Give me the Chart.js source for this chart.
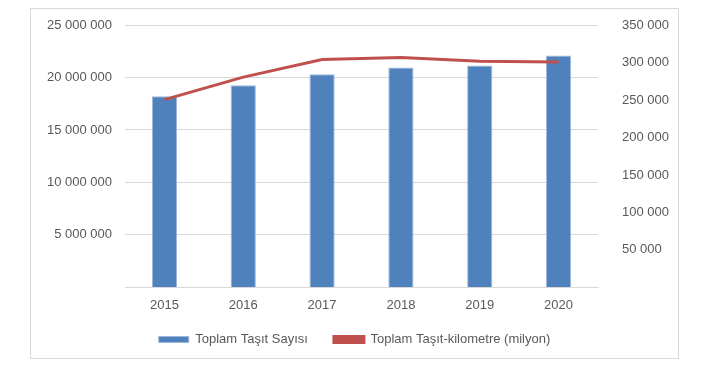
<!DOCTYPE html>
<html>
<head>
<meta charset="utf-8">
<script src="https://cdn.jsdelivr.net/npm/chart.js@4.4.0/dist/chart.umd.min.js"></script>
<style>
  html, body { margin: 0; padding: 0; background: #fff; }
  #box {
    position: absolute;
    left: 30px; top: 8px;
    width: 647px; height: 349px;
    border: 1px solid #d9d9d9;
  }
</style>
</head>
<body>
<div id="box"><canvas id="myChart" width="647" height="349"></canvas></div>
<script>
const years = ["2015", "2016", "2017", "2018", "2019", "2020"];
const vehicles = [18200000, 19250000, 20300000, 20950000, 21150000, 22100000];
const vehicleKm = [250500, 280500, 304000, 306500, 301500, 300500];

const fmt = (v) => (v === 0 ? "" : String(v).replace(/\B(?=(\d{3})+(?!\d))/g, " "));

Chart.defaults.font.family = "'Liberation Sans', Arial, sans-serif";
Chart.defaults.font.size = 13;
Chart.defaults.color = "#595959";

// wider gap between legend items without a taller legend box
const legendGap = {
  id: "legendGap",
  afterInit(chart) {
    const lg = chart.legend;
    const fit = lg.fit;
    lg.fit = function () { fit.call(this); this.height = 33; };
    lg.draw = function () {
      this.ctx.save();
      this.ctx.translate(0, -16);
      this._draw();
      this.ctx.restore();
    };
  },
};

// fixed side widths, and no tick padding added above/below the plot
const fixAxis = (w) => (s) => {
  s.width = w;
  s.paddingTop = 16;
  s.paddingBottom = 0;
};

const ctx = document.getElementById("myChart").getContext("2d");
const myChart = new Chart(ctx, {
  type: "bar",
  data: {
    labels: years,
    datasets: [
      {
        type: "line",
        label: "Toplam Taşıt-kilometre (milyon)",
        data: vehicleKm,
        yAxisID: "y2",
        borderColor: "#C0504D",
        backgroundColor: "#C0504D",
        borderWidth: 3,
        pointRadius: 0,
        tension: 0,
        order: 0,
      },
      {
        label: "Toplam Taşıt Sayısı",
        data: vehicles,
        yAxisID: "y",
        backgroundColor: "#4F81BD",
        borderColor: "#9DB8DC",
        borderWidth: 1,
        categoryPercentage: 1,
        barPercentage: 0.32,
        order: 1,
      },
    ],
  },
  plugins: [legendGap],
  options: {
    responsive: false,
    animation: false,
    layout: { padding: { left: 0, right: 0, top: 0, bottom: 2 } },
    plugins: {
      tooltip: { enabled: false },
      legend: {
        position: "bottom",
        reverse: true,
        labels: {
          boxWidth: 30,
          boxHeight: 6,
          padding: 26,
          color: "#595959",
          font: { size: 13 },
        },
      },
    },
    scales: {
      x: {
        grid: { display: false, drawTicks: false },
        border: { display: true, color: "#d9d9d9", width: 1 },
        ticks: { padding: 10 },
      },
      y: {
        position: "left",
        min: 0,
        max: 25000000,
        ticks: { stepSize: 5000000, callback: fmt, padding: 13 },
        grid: { color: "#d9d9d9", drawTicks: false },
        border: { display: false },
        afterFit: fixAxis(94),
      },
      y2: {
        position: "right",
        min: 0,
        max: 350000,
        ticks: { stepSize: 50000, callback: fmt, padding: 24 },
        grid: { drawOnChartArea: false, drawTicks: false },
        border: { display: false },
        afterFit: fixAxis(80),
      },
    },
  },
});
</script>
</body>
</html>
